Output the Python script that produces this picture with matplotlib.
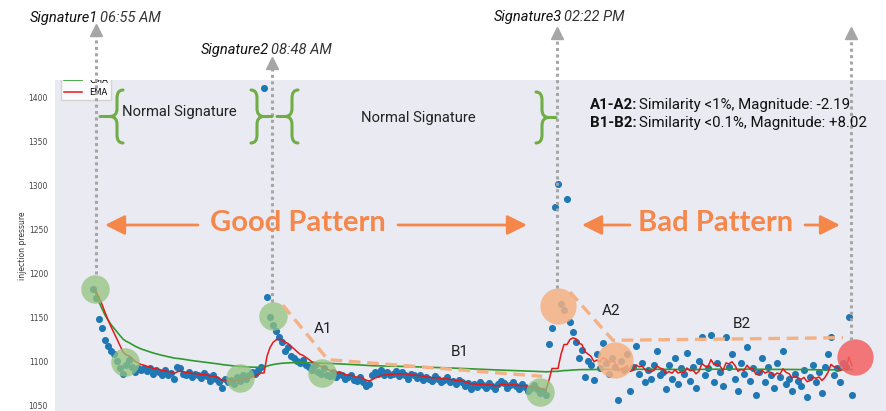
import numpy as np
import pandas as pd
import matplotlib
matplotlib.use('Agg')
from matplotlib import pyplot as plt
from matplotlib.patches import FancyArrowPatch, PathPatch, Rectangle
from matplotlib.path import Path
from matplotlib.transforms import Affine2D

# injection pressure samples (one per ~3 px)
pressure_sig1 = [1182, 1172, 1148, 1138, 1124, 1118, 1112, 1108, 1100, 1092,
                 1086, 1096, 1102, 1094, 1088, 1092, 1090, 1093, 1089, 1092,
                 1086, 1090, 1088, 1085, 1090, 1084, 1087, 1080, 1094, 1092,
                 1086, 1084, 1088, 1082, 1086, 1084, 1081, 1087, 1083, 1078,
                 1084, 1080, 1076, 1070, 1080, 1076, 1079, 1074, 1082, 1078,
                 1085, 1080, 1084, 1088, 1086, 1090, 1094, 1411]
pressure_sig2 = [1173, 1150, 1142, 1135, 1128, 1122, 1112, 1116, 1106, 1104,
                 1100, 1098, 1102, 1096, 1094, 1090, 1096, 1088, 1086, 1092,
                 1084, 1083, 1088, 1082, 1086, 1084, 1080, 1082, 1084, 1079,
                 1078, 1082, 1076, 1072, 1074, 1084, 1088, 1086, 1090, 1085,
                 1088, 1084, 1086, 1089, 1083, 1088, 1085, 1080, 1086, 1084,
                 1081, 1084, 1079, 1082, 1080, 1078, 1083, 1080, 1077, 1079,
                 1082, 1076, 1078, 1074, 1079, 1076, 1072, 1075, 1068, 1074,
                 1071, 1076, 1073, 1070, 1075, 1072, 1068, 1074, 1078, 1075,
                 1070, 1073, 1076, 1072, 1068, 1074, 1071, 1066, 1070, 1073,
                 1068, 1064, 1066, 1062]
pressure_sig3 = [1120, 1138, 1276, 1302, 1165, 1158, 1285, 1145, 1133, 1122,
                 1104, 1113, 1082, 1100, 1096, 1079, 1108, 1092, 1121, 1098,
                 1086, 1104, 1094, 1056, 1100, 1090, 1108, 1066, 1094, 1118,
                 1086, 1098, 1076, 1090, 1080, 1096, 1112, 1084, 1088, 1068,
                 1096, 1080, 1104, 1074, 1092, 1086, 1110, 1078, 1094, 1070,
                 1100, 1128, 1084, 1092, 1130, 1076, 1098, 1088, 1072, 1128,
                 1094, 1108, 1080, 1066, 1098, 1086, 1116, 1078, 1092, 1062,
                 1088, 1104, 1076, 1094, 1084, 1070, 1098, 1082, 1112, 1074,
                 1080, 1066, 1086, 1078, 1072, 1090, 1060, 1082, 1096, 1076,
                 1088, 1064, 1094, 1108, 1128, 1084, 1092, 1076, 1098, 1094,
                 1150, 1062]

sig_labels = ['Signature1', 'Signature2', 'Signature3']
sig_times = ['06:55 AM', '08:48 AM', '02:22 PM']
line_labels = ['CMA', 'EMA']
yticks = [1050, 1100, 1150, 1200, 1250, 1300, 1350, 1400]
spike_limit = 1250  # single-sample spikes are left out of the smoothing

pressure = pd.Series(pressure_sig1 + pressure_sig2 + pressure_sig3)
despiked = pressure.where(pressure < spike_limit)
cma = despiked.expanding().mean()
ema = despiked.ewm(span=8, adjust=False, ignore_na=True).mean().ffill()
x = np.arange(len(pressure))

W, H = 886, 411
orange = '#f5874b'
light_orange = '#f4b183'
brace_green = '#70ad47'
dot_gray = '#a6a6a6'

def fpx(px, py):
    return px / W, 1 - py / H

fig = plt.figure(figsize=(W / 100, H / 100), dpi=100)
ax = fig.add_axes([55 / W, 0, (W - 55) / W, (H - 80) / H])
ax.set_facecolor('#eaeaf2')
for s in ax.spines.values():
    s.set_visible(False)

ax.scatter(x, pressure, s=26, color='#1f77b4', zorder=2, linewidths=0)
ax.plot(x, cma, color='#2e9a2e', lw=1.2, label=line_labels[0], zorder=3)
ax.plot(x, ema, color='#e31a1c', lw=1.1, label=line_labels[1], zorder=3)

# sample index: px 93 is the first sample, 3 px per sample
ax.set_xlim((55 - 93) / 3, (886 - 93) / 3)
ax.set_ylim(1043.5, 1420.5)
ax.set_xticks([])
ax.set_yticks(yticks)
ax.tick_params(axis='y', length=0, pad=5, labelsize=5.5, labelcolor='#444444')
ax.set_ylabel('injection pressure', fontsize=5.5, color='#333333', labelpad=1)

leg = ax.legend(loc='upper left', bbox_to_anchor=(0.002, 1.034), fontsize=6,
                frameon=True, facecolor='white', edgecolor='#cccccc',
                handlelength=2.2, borderpad=0.4, labelspacing=0.35)
leg.set_zorder(5)
# the source image is cropped at the top of the axes
ax.add_patch(Rectangle((-0.1, 1), 1.2, 0.3, transform=ax.transAxes,
                       facecolor='white', edgecolor='none', clip_on=False, zorder=6))

# highlight circles
green_marks = [(0.7, 1183), (10.7, 1099), (49, 1081), (60, 1152), (76.3, 1087), (149, 1065)]
orange_marks = [(155, 1163), (174, 1102)]
red_marks = [(254, 1105)]
ax.scatter(*zip(*green_marks), s=420, color='#93c47d', alpha=0.75, lw=0, zorder=4)
ax.scatter(*zip(*orange_marks), s=680, color=light_orange, alpha=0.85, lw=0, zorder=4)
ax.scatter(*zip(*red_marks), s=680, color='#f46262', alpha=0.85, lw=0, zorder=4,
           clip_on=False)

# A/B dashed trend lines
for xs, ys in [([63.3, 78.3, 149.7], [1164, 1102, 1083]),
               ([159, 173.3, 250], [1179, 1124, 1127])]:
    ax.plot(xs, ys, color=light_orange, lw=2.4, ls=(0, (3.5, 2)), zorder=5,
            solid_capstyle='butt')

# dotted signature arrows
for xi, y0, y1 in [(1, 1200, 1477), (59.7, 1168, 1440), (154.7, 1184, 1474), (252.7, 1124, 1474)]:
    ax.plot([xi, xi], [y0, y1 - 6], color=dot_gray, lw=2.2, ls=(0, (1, 1.1)),
            clip_on=False, zorder=7)
    ax.plot([xi], [y1], marker='^', ms=8, color=dot_gray, clip_on=False, zorder=7)

# signature titles
for (px, py), name, t in zip([(98, 18), (269, 50), (562, 17)], sig_labels, sig_times):
    fig.text(*fpx(px, py), name, ha='right', va='center', fontsize=10.5,
             style='italic', family='Roboto', color='#111111')
    fig.text(*fpx(px + 2, py), t, ha='left', va='center', fontsize=10.5,
             style='italic', family='Roboto', color='#333333')

# curly braces
pix = Affine2D().scale(1 / W, -1 / H).translate(0, 1) + fig.transFigure

def brace(xb, y0, y1, xt, side):
    q = 8
    ym = (y0 + y1) / 2
    xc = xb - side * 6
    xn = xb + side * 7
    verts = [(xc, y0), (xb, y0), (xb, y0 + q), (xb, ym - q), (xb, ym), (xn, ym),
             (xt, ym), (xn, ym), (xb, ym), (xb, ym + q), (xb, y1 - q), (xb, y1), (xc, y1)]
    codes = [Path.MOVETO, Path.CURVE3, Path.CURVE3, Path.LINETO, Path.CURVE3, Path.CURVE3,
             Path.LINETO, Path.MOVETO, Path.CURVE3, Path.CURVE3, Path.LINETO, Path.CURVE3,
             Path.CURVE3]
    fig.add_artist(PathPatch(Path(verts, codes), transform=pix, fill=False,
                             edgecolor=brace_green, lw=2.2, capstyle='round'))

brace(117, 90, 143, 100, -1)
brace(257, 90, 143, 272, 1)
brace(292, 90, 143, 277, -1)
brace(542, 92, 143, 556, 1)

fig.text(*fpx(179, 112), 'Normal Signature', ha='center', va='center', fontsize=10.6,
         family='Roboto', color='#222222')
fig.text(*fpx(418, 118), 'Normal Signature', ha='center', va='center', fontsize=10.6,
         family='Roboto', color='#222222')

# similarity notes
for py, key, rest in [(105, 'A1-A2:', 'Similarity <1%, Magnitude: -2.19'),
                      (123, 'B1-B2:', 'Similarity <0.1%, Magnitude: +8.02')]:
    fig.text(*fpx(590, py), key, ha='left', va='center', fontsize=10.8,
             family='Roboto', fontweight='bold', color='#111111')
    fig.text(*fpx(639, py), rest, ha='left', va='center', fontsize=10.8,
             family='Roboto', color='#111111')

for (px, py), lab in zip([(323, 329), (460, 352), (611, 311), (742, 324)],
                         ['A1', 'B1', 'A2', 'B2']):
    fig.text(*fpx(px, py), lab, ha='center', va='center', fontsize=11,
             family='Roboto', color='#222222')

# pattern banners
for (px, py), lab in zip([(298, 223), (716, 223)], ['Good Pattern', 'Bad Pattern']):
    fig.text(*fpx(px, py), lab, ha='center', va='center', fontsize=21,
             family='Lato', fontweight='bold', color=orange)

for a, b in [((198, 225), (105, 225)), ((398, 225), (527, 225)),
             ((630, 225), (582, 225)), ((805, 225), (840, 225))]:
    fig.add_artist(FancyArrowPatch(fpx(*a), fpx(*b), transform=fig.transFigure,
                                   arrowstyle='-|>,head_length=0.6,head_width=0.3',
                                   mutation_scale=20, lw=2, color=orange,
                                   shrinkA=0, shrinkB=0))

fig.savefig('out.png', dpi=100, facecolor='white')
